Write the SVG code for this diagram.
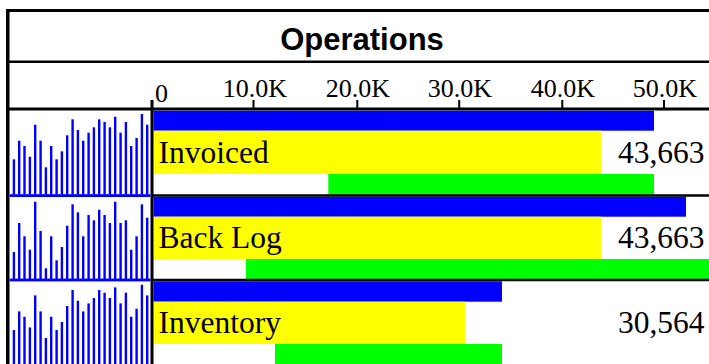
<svg xmlns="http://www.w3.org/2000/svg" width="709" height="364" viewBox="0 0 709 364">
<defs>
<style>
.title{font-family:"Liberation Sans",Arial,sans-serif;font-weight:bold;font-size:31px;fill:#000}
.tick{font-family:"Liberation Serif","Times New Roman",serif;font-size:26px;fill:#000}
.lbl{font-family:"Liberation Serif","Times New Roman",serif;font-size:31.5px;fill:#000}
.val{font-family:"Liberation Serif","Times New Roman",serif;font-size:31.5px;fill:#000;text-anchor:end}
.blue{fill:#0000ff}.yel{fill:#ffff00}.grn{fill:#00ff00}
.ln{stroke:#000;fill:none}
</style>
<g id="sparkA" fill="#0000ff">
<rect x="12.7" y="159.3" width="2.4" height="35.2"/><rect x="18.0" y="140.7" width="2.4" height="53.8"/><rect x="23.3" y="146" width="2.4" height="48.5"/><rect x="28.7" y="156.7" width="2.4" height="37.8"/><rect x="34.0" y="124.7" width="2.4" height="69.8"/><rect x="39.4" y="140.7" width="2.4" height="53.8"/><rect x="44.7" y="167.3" width="2.4" height="27.2"/><rect x="50.0" y="146" width="2.4" height="48.5"/><rect x="55.4" y="159.3" width="2.4" height="35.2"/><rect x="60.7" y="151.3" width="2.4" height="43.2"/><rect x="66.0" y="135.3" width="2.4" height="59.2"/><rect x="71.4" y="119.3" width="2.4" height="75.2"/><rect x="76.7" y="130" width="2.4" height="64.5"/><rect x="82.0" y="140.7" width="2.4" height="53.8"/><rect x="87.4" y="132.7" width="2.4" height="61.8"/><rect x="92.7" y="127.3" width="2.4" height="67.2"/><rect x="98.0" y="119.3" width="2.4" height="75.2"/><rect x="103.4" y="122" width="2.4" height="72.5"/><rect x="108.7" y="127.3" width="2.4" height="67.2"/><rect x="114.0" y="116.7" width="2.4" height="77.8"/><rect x="119.4" y="132.7" width="2.4" height="61.8"/><rect x="124.7" y="122" width="2.4" height="72.5"/><rect x="130.0" y="146" width="2.4" height="48.5"/><rect x="135.4" y="138" width="2.4" height="56.5"/><rect x="140.7" y="114" width="2.4" height="80.5"/><rect x="146.0" y="124.7" width="2.4" height="69.8"/>
</g>
</defs>
<rect x="0" y="0" width="709" height="364" fill="#fff"/>

<g id="header">
<text class="title" x="362" y="49.5" text-anchor="middle">Operations</text>
</g>

<g id="axis">
<text class="tick" x="155" y="101.5">0</text>
<text class="tick" x="255" y="97" text-anchor="middle">10.0K</text>
<text class="tick" x="358" y="97" text-anchor="middle">20.0K</text>
<text class="tick" x="460" y="97" text-anchor="middle">30.0K</text>
<text class="tick" x="563" y="97" text-anchor="middle">40.0K</text>
<text class="tick" x="665" y="97" text-anchor="middle">50.0K</text>
<g class="ln" stroke-width="2">
<line x1="253.5" y1="100" x2="253.5" y2="109"/>
<line x1="357.3" y1="100" x2="357.3" y2="109"/>
<line x1="459.2" y1="100" x2="459.2" y2="109"/>
<line x1="562.3" y1="100" x2="562.3" y2="109"/>
<line x1="664" y1="100" x2="664" y2="109"/>
</g>
</g>

<g id="row-invoiced">
<rect class="blue" x="153.5" y="110.7" width="500.5" height="20"/>
<rect class="yel" x="153.5" y="130.7" width="447.5" height="43.3"/>
<rect class="grn" x="328.3" y="174" width="325.7" height="20.5"/>
<use href="#sparkA"/>
<text class="lbl" x="158.5" y="163.3">Invoiced</text>
<text class="val" x="704.5" y="163.3">43,663</text>
</g>

<g id="row-backlog">
<rect class="blue" x="153.5" y="196.7" width="532.5" height="20"/>
<rect class="yel" x="153.5" y="216.7" width="447.5" height="42.3"/>
<rect class="grn" x="246" y="259" width="463" height="20"/>
<g fill="#0000ff">
<rect x="12.7" y="252" width="2.4" height="27.5"/><rect x="18.0" y="223" width="2.4" height="56.5"/><rect x="23.3" y="236.3" width="2.4" height="43.2"/><rect x="28.7" y="249.7" width="2.4" height="29.8"/><rect x="34.0" y="201.7" width="2.4" height="77.8"/><rect x="39.4" y="231" width="2.4" height="48.5"/><rect x="44.7" y="268.3" width="2.4" height="11.2"/><rect x="50.0" y="236.3" width="2.4" height="43.2"/><rect x="55.4" y="260.3" width="2.4" height="19.2"/><rect x="60.7" y="247" width="2.4" height="32.5"/><rect x="66.0" y="225.7" width="2.4" height="53.8"/><rect x="71.4" y="204.3" width="2.4" height="75.2"/><rect x="76.7" y="212.3" width="2.4" height="67.2"/><rect x="82.0" y="236.3" width="2.4" height="43.2"/><rect x="87.4" y="215" width="2.4" height="64.5"/><rect x="92.7" y="220.3" width="2.4" height="59.2"/><rect x="98.0" y="209.7" width="2.4" height="69.8"/><rect x="103.4" y="215" width="2.4" height="64.5"/><rect x="108.7" y="223" width="2.4" height="56.5"/><rect x="114.0" y="201.7" width="2.4" height="77.8"/><rect x="119.4" y="223" width="2.4" height="56.5"/><rect x="124.7" y="220.3" width="2.4" height="59.2"/><rect x="130.0" y="249.7" width="2.4" height="29.8"/><rect x="135.4" y="236.3" width="2.4" height="43.2"/><rect x="140.7" y="204.3" width="2.4" height="75.2"/><rect x="146.0" y="217.7" width="2.4" height="61.8"/>
</g>
<text class="lbl" x="158.5" y="248.3">Back Log</text>
<text class="val" x="704.5" y="248.3">43,663</text>
</g>

<g id="row-inventory">
<rect class="blue" x="153.5" y="281.3" width="348.5" height="20.4"/>
<rect class="yel" x="153.5" y="301.7" width="311.5" height="42.3"/>
<rect class="grn" x="275" y="344" width="227" height="20"/>
<use href="#sparkA" transform="translate(0,170.7)"/>
<text class="lbl" x="158.5" y="333.3">Inventory</text>
<text class="val" x="704.5" y="333.3">30,564</text>
</g>

<g id="connectors">
<line class="ln" x1="6" y1="10.5" x2="709" y2="10.5" stroke-width="3"/>
<line class="ln" x1="7.75" y1="9" x2="7.75" y2="364" stroke-width="3.5"/>
<line class="ln" x1="8" y1="61.8" x2="709" y2="61.8" stroke-width="2.4"/>
<line class="ln" x1="8" y1="109" x2="709" y2="109" stroke-width="3.2"/>
<line class="ln" x1="152" y1="100" x2="152" y2="364" stroke-width="3"/>
<line class="ln" x1="152" y1="195.5" x2="709" y2="195.5" stroke-width="2.6"/>
<line class="ln" x1="152" y1="280" x2="709" y2="280" stroke-width="2.6"/>
<rect class="blue" x="9.5" y="194.2" width="141" height="2.8"/>
<rect class="blue" x="9.5" y="278.6" width="141" height="2.8"/>
</g>
</svg>
